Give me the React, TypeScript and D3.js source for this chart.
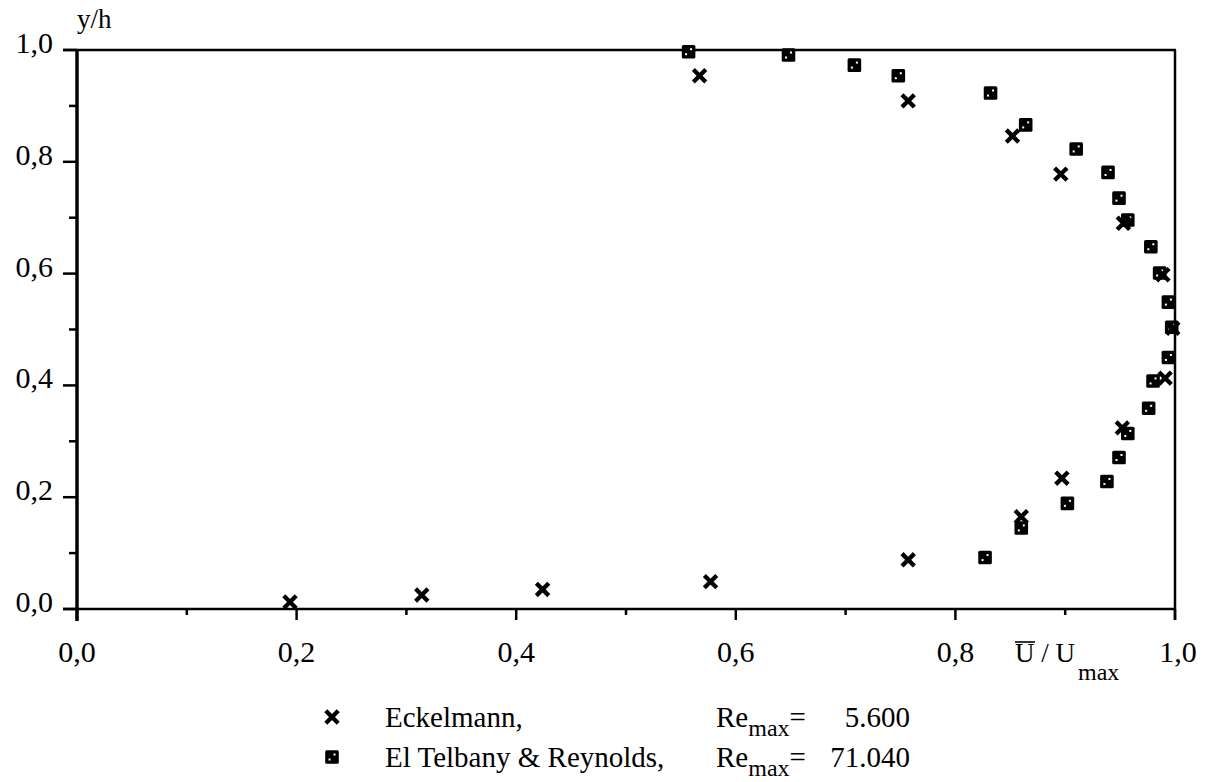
import React from "react";
import * as d3 from "d3";

// Eckelmann, Re_max = 5.600 (cross markers)
const eckelmannU = [0.194, 0.314, 0.424, 0.577, 0.757, 0.860, 0.897, 0.952, 0.991, 0.998, 0.989, 0.953, 0.896, 0.852, 0.757, 0.567];
const eckelmannY = [0.0125, 0.025, 0.035, 0.049, 0.088, 0.165, 0.234, 0.324, 0.413, 0.502, 0.598, 0.690, 0.778, 0.846, 0.909, 0.954];

// El Telbany & Reynolds, Re_max = 71.040 (square markers)
const telbanyU = [0.557, 0.648, 0.708, 0.748, 0.832, 0.864, 0.910, 0.939, 0.949, 0.957, 0.978, 0.986, 0.994, 0.997, 0.994, 0.980, 0.976, 0.957, 0.949, 0.938, 0.902, 0.860, 0.827];
const telbanyY = [0.997, 0.991, 0.973, 0.954, 0.923, 0.866, 0.823, 0.781, 0.735, 0.696, 0.648, 0.601, 0.549, 0.504, 0.450, 0.408, 0.359, 0.314, 0.271, 0.228, 0.189, 0.145, 0.092];

const xMajorTicks = [0, 0.2, 0.4, 0.6, 0.8, 1.0];
const xMinorTicks = [0.1, 0.3, 0.5, 0.7, 0.9];
const yMajorTicks = [0, 0.2, 0.4, 0.6, 0.8, 1.0];
const yMinorTicks = [0.1, 0.3, 0.5, 0.7, 0.9];

const seriesNames = ["Eckelmann,", "El Telbany & Reynolds,"];
const reynoldsNumbers = ["5.600", "71.040"];

const W = 1206;
const H = 782;
const FONT = '"Liberation Serif"';

const fmt = (d: number) => d3.format(".1f")(d).replace(".", ",");

const x = d3.scaleLinear().domain([0, 1]).range([77, 1175]);
const y = d3.scaleLinear().domain([0, 1]).range([609, 50]);

function Cross({ cx, cy }: { cx: number; cy: number }) {
  const s = 6.2;
  return (
    <path
      d={`M${cx - s},${cy - s}L${cx + s},${cy + s}M${cx - s},${cy + s}L${cx + s},${cy - s}`}
      stroke="#000"
      strokeWidth={4.3}
      fill="none"
    />
  );
}

function Square({ cx, cy }: { cx: number; cy: number }) {
  const s = 6.8;
  return (
    <g>
      <rect x={cx - s} y={cy - s} width={2 * s} height={2 * s} rx={1.5} fill="#000" />
      <rect x={cx - 3.5} y={cy + 1.5} width={2} height={2} fill="#fff" />
      <rect x={cx + 1.5} y={cy - 3.5} width={2} height={2} fill="#fff" />
    </g>
  );
}

export default function App() {
  const rows = [727, 767];
  return (
    <svg
      width={W}
      height={H}
      viewBox={`0 0 ${W} ${H}`}
      style={{ position: "absolute", left: 0, top: 0, background: "#fff", fontFamily: FONT }}
    >
      {/* frame */}
      <line x1={x(0)} x2={x(0)} y1={y(1)} y2={y(0) + 12} stroke="#000" strokeWidth={3.5} />
      <line x1={x(0) - 14} x2={x(1) + 1} y1={y(1)} y2={y(1)} stroke="#000" strokeWidth={2.5} />
      <line x1={x(0) - 14} x2={x(1) + 1} y1={y(0)} y2={y(0)} stroke="#000" strokeWidth={2.5} />
      <line x1={x(1)} x2={x(1)} y1={y(1)} y2={y(0) + 11} stroke="#000" strokeWidth={2.5} />

      {/* y ticks */}
      {yMajorTicks.map((d) => (
        <g key={"ym" + d}>
          <line x1={x(0) - 14} x2={x(0)} y1={y(d)} y2={y(d)} stroke="#000" strokeWidth={2.5} />
          <text x={53} y={y(d) + 3} textAnchor="end" fontSize={30} style={{ fontFamily: FONT }}>
            {fmt(d)}
          </text>
        </g>
      ))}
      {yMinorTicks.map((d) => (
        <line key={"yn" + d} x1={x(0) - 8} x2={x(0)} y1={y(d)} y2={y(d)} stroke="#000" strokeWidth={2.5} />
      ))}

      {/* x ticks */}
      {xMajorTicks.map((d) => (
        <g key={"xm" + d}>
          <line x1={x(d)} x2={x(d)} y1={y(0)} y2={y(0) + 11} stroke="#000" strokeWidth={2.5} />
          <text x={x(d) + (d === 1 ? 3 : 0)} y={662} textAnchor="middle" fontSize={30} style={{ fontFamily: FONT }}>
            {fmt(d)}
          </text>
        </g>
      ))}
      {xMinorTicks.map((d) => (
        <line key={"xn" + d} x1={x(d)} x2={x(d)} y1={y(0)} y2={y(0) + 6} stroke="#000" strokeWidth={2.5} />
      ))}

      {/* axis titles */}
      <text x={77} y={28} fontSize={27} style={{ fontFamily: FONT }}>y/h</text>
      <text x={1015} y={662} fontSize={27} style={{ fontFamily: FONT }}>
        <tspan>U / U</tspan>
        <tspan dx={3} dy={18} fontSize={24}>max</tspan>
      </text>
      <line x1={1015} x2={1035} y1={642} y2={642} stroke="#000" strokeWidth={1.6} />

      {/* data */}
      {telbanyU.map((u, i) => (
        <Square key={"t" + i} cx={x(u)} cy={y(telbanyY[i])} />
      ))}
      {eckelmannU.map((u, i) => (
        <Cross key={"e" + i} cx={x(u)} cy={y(eckelmannY[i])} />
      ))}

      {/* legend */}
      <Cross cx={332} cy={rows[0] - 10} />
      <Square cx={332} cy={rows[1] - 10} />
      {seriesNames.map((name, i) => (
        <g key={name}>
          <text x={385} y={rows[i]} fontSize={29} style={{ fontFamily: FONT }}>{name}</text>
          <text x={716} y={rows[i]} fontSize={29} style={{ fontFamily: FONT }}>
            <tspan>Re</tspan>
            <tspan dy={9} fontSize={24}>max</tspan>
            <tspan dy={-9}>=</tspan>
          </text>
          <text x={910} y={rows[i]} fontSize={29} textAnchor="end" style={{ fontFamily: FONT }}>
            {reynoldsNumbers[i]}
          </text>
        </g>
      ))}
    </svg>
  );
}
